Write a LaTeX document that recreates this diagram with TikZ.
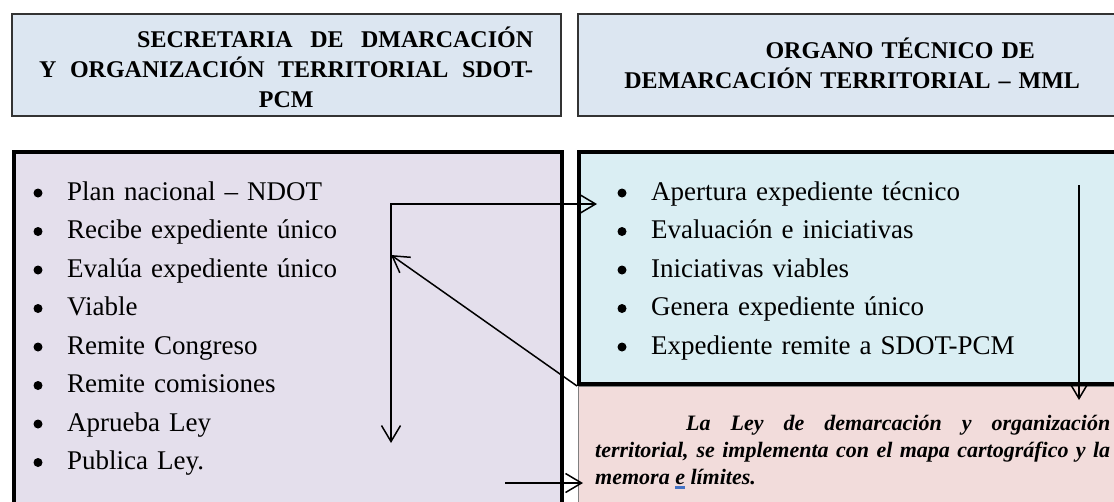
\documentclass[tikz,border=0pt]{standalone}
\usepackage{fontspec}
\setmainfont{Liberation Serif}[BoldFont={Liberation Serif Bold}, ItalicFont={Liberation Serif Italic}, BoldItalicFont={Liberation Serif Bold Italic}]
\usetikzlibrary{arrows.meta}

\definecolor{headfill}{HTML}{DCE6F1}
\definecolor{lilac}{HTML}{E4DFEC}
\definecolor{paleblue}{HTML}{DAEEF3}
\definecolor{palerose}{HTML}{F2DCDB}
\definecolor{markblue}{HTML}{4472C4}

\begin{document}
\begin{tikzpicture}[x=1pt, y=-1pt,
    headbox/.style={draw=black!80, line width=1.5pt, fill=headfill, inner sep=0pt, anchor=north west},
    listbox/.style={draw=black, line width=4pt, inner sep=0pt, anchor=north west},
    headtext/.style={font=\bfseries\fontsize{24}{30}\selectfont, inner sep=0pt, anchor=base west},
    listtext/.style={font=\fontsize{27}{38.5}\selectfont, text width=440pt, align=left, inner sep=0pt, anchor=base west},
    flow/.style={line width=1.5pt, >={Straight Barb[length=16pt,width=19pt]}}]
        \clip (0,0) rectangle (1114,501);

        % cabeceras
        \node[headbox, minimum width=549pt, minimum height=102pt] (sdot) at (11,13) {};
        \node[headbox, minimum width=560pt, minimum height=102pt] (otdt) at (577,13) {};
        \node[headtext, text width=494pt, align=justify] (sdottitle) at (39,47)
                {\hspace*{98pt}SECRETARIA DE DMARCACIÓN\linebreak
                 Y ORGANIZACIÓN TERRITORIAL SDOT-\linebreak
                 \makebox[\linewidth]{PCM}};
        \node[headtext, text width=520pt, align=center] (otdttitle) at (592,58)
                {\hspace*{96pt}ORGANO TÉCNICO DE\\ DEMARCACIÓN TERRITORIAL – MML};

        % cajas de contenido
        \node[listbox, fill=lilac, minimum width=548pt, minimum height=380pt] (sdotlist) at (12,150) {};
        \node[listbox, fill=paleblue, minimum width=560pt, minimum height=232pt] (otlist) at (577,150) {};
        \node[draw=black!50, line width=1pt, fill=palerose, inner sep=0pt, anchor=north west,
              minimum width=560pt, minimum height=140pt] (leybox) at (578,386) {};

        % vinetas
        \foreach \k in {0,...,7}
                \fill (38,{193+38.5*\k}) circle (4.5pt);
        \foreach \k in {0,...,4}
                \fill (622,{193+38.5*\k}) circle (4.5pt);

        \node[listtext] (sdotitems) at (67,200)
                {Plan nacional – NDOT\\
                 Recibe expediente único\\
                 Evalúa expediente único\\
                 Viable\\
                 Remite Congreso\\
                 Remite comisiones\\
                 Aprueba Ley\\
                 Publica Ley.};
        \node[listtext] (otitems) at (651,200)
                {Apertura expediente técnico\\
                 Evaluación e iniciativas\\
                 Iniciativas viables\\
                 Genera expediente único\\
                 Expediente remite a SDOT-PCM};
        \node[font=\bfseries\itshape\fontsize{22}{27}\selectfont, text width=515pt, align=justify,
              inner sep=0pt, anchor=base west] (leytext) at (595,430)
                {\hspace*{91pt}La Ley de demarcación y organización\linebreak
                 territorial, se implementa con el mapa cartográfico y la\linebreak
                 memora \rlap{\textcolor{markblue}{\rule[-5pt]{10pt}{3pt}}}e límites.};

        % flechas
        \coordinate (corner) at (391,204);
        \coordinate (aptip) at (597,204);
        \coordinate (downtip) at (391,443);
        \coordinate (evaltip) at (391,255);
        \coordinate (rtop) at (1079,185);
        \coordinate (rtip) at (1079,400);
        \coordinate (pubtail) at (505,483);
        \coordinate (pubtip) at (583,483);

        \draw[flow, <->] (aptip) -- (corner) -- (downtip);
        \draw[flow, ->] (otlist.south west) -- (evaltip);
        \draw[flow, ->] (rtop) -- (rtip);
        \draw[flow, ->] (pubtail) -- (pubtip);
\end{tikzpicture}
\end{document}
